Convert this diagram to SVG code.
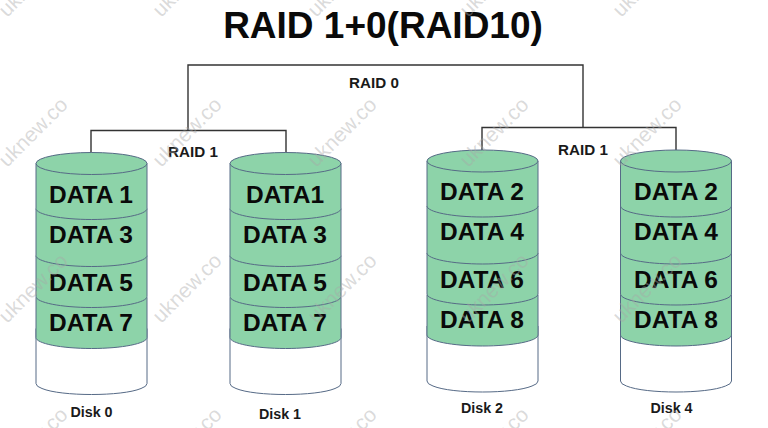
<svg xmlns="http://www.w3.org/2000/svg" xmlns:xlink="http://www.w3.org/1999/xlink" width="768" height="428" viewBox="0 0 768 428">
<defs>
<style>
text{font-family:"Liberation Sans",Arial,sans-serif;font-weight:bold;fill:#0a0a0a;text-anchor:middle}
.title{font-size:37px}
.data{font-size:24.5px}
.raid{font-size:15.2px;fill:#1a1a1a}
.disk{font-size:14.300px;fill:#1a1a1a}
.wm{font-size:21px;font-weight:normal;fill:#a8a8a8;fill-opacity:.42;text-anchor:start}
.band{fill:#8dd3a9;stroke:#566a86;stroke-width:1}
.empty{fill:#fff;stroke:#566a86;stroke-width:1}
.conn{fill:none;stroke:#333;stroke-width:1.4}
</style>
<g id="cyl">
<path class="empty" d="M0 176V231Q0 234 6 236C25 244 86 244 105 236Q111 234 111 231V176Z"/>
<path class="band" d="M0 145V185C0 191 25 196 55.500 196S111 191 111 185V145Z"/>
<path class="band" d="M0 103V144C0 150 25 155 55.500 155S111 150 111 144V103Z"/>
<path class="band" d="M0 56V103C0 109 25 114 55.500 114S111 109 111 103V56Z"/>
<path class="band" d="M0 11V56C0 62 25 67 55.500 67S111 62 111 56V11Z"/>
<ellipse class="band" cx="55.500" cy="11" rx="55.500" ry="11"/>
</g>
</defs>
<rect width="768" height="428" fill="#fff"/>
<g id="connectors">
<path class="conn" d="M188 130V65H583V127"/>
<path class="conn" d="M91 153V130.500H286V153"/>
<path class="conn" d="M482 150V127.500H676V150"/>
</g>
<text class="title" x="383" y="37.500">RAID 1+0(RAID10)</text>
<g id="raid0"><text class="raid" x="374" y="88">RAID 0</text></g>
<g id="raid1-left"><text class="raid" x="193" y="156.500">RAID 1</text></g>
<g id="raid1-right"><text class="raid" x="583" y="155">RAID 1</text></g>
<g id="disk0">
<use xlink:href="#cyl" x="36" y="152.500"/>
<text class="data" x="91" y="202.500">DATA 1</text>
<text class="data" x="91" y="243">DATA 3</text>
<text class="data" x="91" y="290.500">DATA 5</text>
<text class="data" x="91" y="330.500">DATA 7</text>
<text class="disk" x="91.500" y="417">Disk 0</text>
</g>
<g id="disk1">
<use xlink:href="#cyl" x="230" y="152.500"/>
<text class="data" x="285" y="202.500">DATA1</text>
<text class="data" x="285" y="243">DATA 3</text>
<text class="data" x="285" y="290.500">DATA 5</text>
<text class="data" x="285" y="330.500">DATA 7</text>
<text class="disk" x="280" y="419">Disk 1</text>
</g>
<g id="disk2">
<use xlink:href="#cyl" x="427" y="150"/>
<text class="data" x="482" y="200">DATA 2</text>
<text class="data" x="482" y="240">DATA 4</text>
<text class="data" x="482" y="288">DATA 6</text>
<text class="data" x="482" y="328">DATA 8</text>
<text class="disk" x="482" y="413">Disk 2</text>
</g>
<g id="disk4">
<use xlink:href="#cyl" x="620.500" y="150"/>
<text class="data" x="676" y="200">DATA 2</text>
<text class="data" x="676" y="240">DATA 4</text>
<text class="data" x="676" y="288">DATA 6</text>
<text class="data" x="676" y="328">DATA 8</text>
<text class="disk" x="671.500" y="413">Disk 4</text>
</g>
<g id="watermarks">
<text class="wm" transform="translate(7 18) rotate(-45)">uknew.co</text>
<text class="wm" transform="translate(161 18) rotate(-45)">uknew.co</text>
<text class="wm" transform="translate(316 18) rotate(-45)">uknew.co</text>
<text class="wm" transform="translate(468 18) rotate(-45)">uknew.co</text>
<text class="wm" transform="translate(621 18) rotate(-45)">uknew.co</text>
<text class="wm" transform="translate(7 168) rotate(-45)">uknew.co</text>
<text class="wm" transform="translate(161 168) rotate(-45)">uknew.co</text>
<text class="wm" transform="translate(316 168) rotate(-45)">uknew.co</text>
<text class="wm" transform="translate(468 168) rotate(-45)">uknew.co</text>
<text class="wm" transform="translate(621 168) rotate(-45)">uknew.co</text>
<text class="wm" transform="translate(7 324) rotate(-45)">uknew.co</text>
<text class="wm" transform="translate(161 324) rotate(-45)">uknew.co</text>
<text class="wm" transform="translate(316 324) rotate(-45)">uknew.co</text>
<text class="wm" transform="translate(468 324) rotate(-45)">uknew.co</text>
<text class="wm" transform="translate(621 324) rotate(-45)">uknew.co</text>
<text class="wm" transform="translate(7 478) rotate(-45)">uknew.co</text>
<text class="wm" transform="translate(161 478) rotate(-45)">uknew.co</text>
<text class="wm" transform="translate(316 478) rotate(-45)">uknew.co</text>
<text class="wm" transform="translate(468 478) rotate(-45)">uknew.co</text>
<text class="wm" transform="translate(621 478) rotate(-45)">uknew.co</text>
</g>
</svg>
